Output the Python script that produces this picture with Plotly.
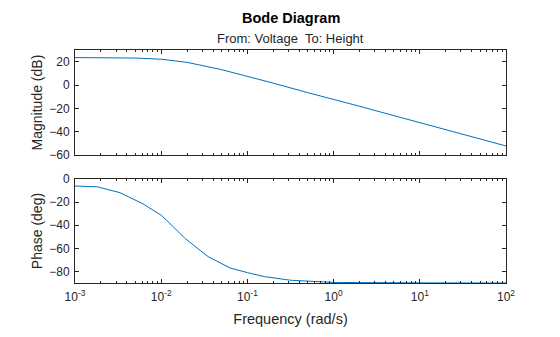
import plotly.graph_objects as go

# Magnitude response (dB) vs frequency (rad/s)
mag_freq = [0.001, 0.002, 0.005, 0.01, 0.02, 0.05, 0.1, 0.2, 0.5, 1, 2, 5, 10, 20, 50, 100]
mag_db = [23.5, 23.4, 23.1, 22.1, 19.4, 13.2, 7.6, 1.6, -6.5, -12.2, -18.2, -26.2, -32.2, -38.2, -46.2, -52.2]

# Phase response (deg) vs frequency (rad/s)
ph_freq = [0.001, 0.00182, 0.00333, 0.00617, 0.0101, 0.0141, 0.019, 0.0347, 0.063, 0.1, 0.158, 0.316, 1, 10, 100]
ph_deg = [-6.0, -6.7, -11.8, -21.5, -31.5, -42.0, -51.5, -67.0, -77.0, -81.0, -84.5, -87.6, -89.5, -89.9, -90.0]

x_tick_vals = [1e-3, 1e-2, 1e-1, 1e0, 1e1, 1e2]
x_tick_text = ["10<sup>-3</sup>", "10<sup>-2</sup>", "10<sup>-1</sup>",
               "10<sup>0</sup>", "10<sup>1</sup>", "10<sup>2</sup>"]
mag_ticks = [-60, -40, -20, 0, 20]
ph_ticks = [-80, -60, -40, -20, 0]

LINE = "#0072BD"
AX = "#262626"
FONT = "Liberation Sans, Arial, sans-serif"

minor_vals = [m * d for d in [1e-3, 1e-2, 1e-1, 1e0, 1e1] for m in range(2, 10)]

fig = go.Figure()
fig.add_trace(go.Scatter(x=mag_freq, y=mag_db, mode="lines",
                         line=dict(color=LINE, width=1), xaxis="x", yaxis="y",
                         showlegend=False))
fig.add_trace(go.Scatter(x=ph_freq, y=ph_deg, mode="lines",
                         line=dict(color=LINE, width=1), xaxis="x2", yaxis="y2",
                         showlegend=False))

xcommon = dict(type="log", range=[-3, 2], showgrid=False, zeroline=False,
               showline=True, linecolor=AX, linewidth=1, mirror="ticks",
               ticks="inside", ticklen=4, tickcolor=AX,
               tickmode="array", tickvals=x_tick_vals, ticktext=x_tick_text,
               minor=dict(ticks="inside", ticklen=2, tickcolor=AX,
                          tickmode="array", tickvals=minor_vals),
               tickfont=dict(size=12, color=AX, family=FONT))
ycommon = dict(showgrid=False, zeroline=False, showline=True, linecolor=AX,
               linewidth=1, mirror="ticks", ticks="inside", ticklen=4,
               tickcolor=AX, tickfont=dict(size=12, color=AX, family=FONT))

fig.update_layout(
    width=560, height=337,
    margin=dict(l=75, r=54, t=50, b=54),
    paper_bgcolor="white", plot_bgcolor="white",
    font=dict(family=FONT, color=AX),
    xaxis=dict(xcommon, anchor="y", domain=[0, 1], showticklabels=False),
    yaxis=dict(ycommon, domain=[0.549, 1], range=[-60, 30],
               tickmode="array", tickvals=mag_ticks, ticklabelstandoff=2,
               title=dict(text="Magnitude (dB)", font=dict(size=14, color=AX), standoff=3)),
    xaxis2=dict(xcommon, anchor="y2", domain=[0, 1], matches="x",
                ticklabelstandoff=3,
                title=dict(text="Frequency (rad/s)", font=dict(size=14.5, color=AX), standoff=10)),
    yaxis2=dict(ycommon, domain=[0, 0.446], range=[-90, 0],
                tickmode="array", tickvals=ph_ticks, ticklabelstandoff=2,
                title=dict(text="Phase (deg)", font=dict(size=14, color=AX), standoff=3)),
    annotations=[
        dict(text="<b>Bode Diagram</b>", x=0.5, xref="paper", y=1, yref="paper",
             yanchor="middle", showarrow=False, font=dict(size=14.5, color="black")),
        dict(text="From: Voltage  To: Height", x=0.5, xref="paper", y=1, yref="paper",
             yanchor="middle", showarrow=False, font=dict(size=13, color=AX)),
    ],
)

# place title lines in pixel terms above the top axes
plot_h = 337 - 50 - 54
fig.layout.annotations[0].y = 1 + (50 - 18) / plot_h
fig.layout.annotations[1].y = 1 + (50 - 38) / plot_h

fig.write_html("out.html")
